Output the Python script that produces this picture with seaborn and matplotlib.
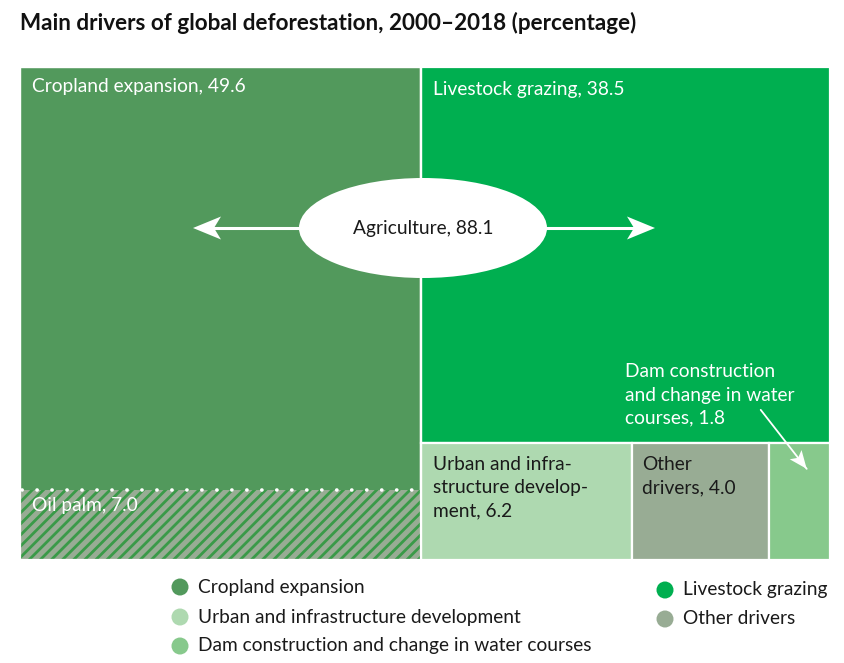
import matplotlib
matplotlib.use("Agg")
import numpy as np
import matplotlib.pyplot as plt
import seaborn as sns
from matplotlib.patches import Rectangle, Ellipse, Polygon
from matplotlib.transforms import IdentityTransform

# ---- data ----
drivers = ["Cropland expansion", "Livestock grazing", "Urban and infrastructure development",
           "Other drivers", "Dam construction and change in water courses"]
values = [49.6, 38.5, 6.2, 4.0, 1.8]
oil_palm = 7.0
agriculture = 88.1
box_labels = ["Cropland expansion, 49.6", "Livestock grazing, 38.5",
              "Urban and infra-\nstructure develop-\nment, 6.2",
              "Other\ndrivers, 4.0",
              "Dam construction\nand change in water\ncourses, 1.8"]
colors = ["#52995C", "#00AF50", "#AED9B0", "#98AC94", "#87C98C"]

sns.set_theme(style="white")
plt.rcParams["font.family"] = ["Lato", "DejaVu Sans"]
plt.rcParams["hatch.linewidth"] = 2.0
plt.rcParams["hatch.color"] = "#3A9A48"

W, H = 845, 663
fig = plt.figure(figsize=(W / 100, H / 100), dpi=100)
ax = fig.add_axes([20 / W, 103 / H, 810 / W, 493 / H])
total = sum(values)
ax.set_xlim(0, total)
ax.set_ylim(0, 1)
ax.axis("off")

# ---- treemap layout ----
crop, live, urban, other, dam = values
rest = total - crop
small = urban + other + dam
h_small = small / rest
rects = {}
rects[0] = (0, 0, crop, 1)
rects[1] = (crop, h_small, rest, 1 - h_small)
x = crop
for i, v in zip([2, 3, 4], [urban, other, dam]):
    w = v / small * rest
    rects[i] = (x, 0, w, h_small)
    x += w

for i, (x0, y0, w, h) in rects.items():
    ax.add_patch(Rectangle((x0, y0), w, h, facecolor=colors[i],
                           edgecolor="white", linewidth=1.6))

# oil palm hatched part of cropland
h_oil = oil_palm / crop
ax.add_patch(Rectangle((0, 0), crop, h_oil, facecolor="#98AC94", hatch="///",
                       edgecolor="#3A9A48", linewidth=0))
ax.add_patch(Rectangle((0, 0), crop, 1, fill=False, edgecolor="white", linewidth=1.6))
ax.plot([0.25, crop - 0.25], [h_oil, h_oil], color="white", lw=2.6,
        linestyle=(0, (0.05, 4.1)), dash_capstyle="round", solid_capstyle="round")

fs = 13.8
ls = 1.45
def label(i, text, dx, dy, color):
    x0, y0, w, h = rects[i]
    ax.annotate(text, xy=(x0, y0 + h), xytext=(dx, dy), textcoords="offset pixels",
                ha="left", va="top", fontsize=fs, color=color, linespacing=ls)

label(0, box_labels[0], 12, -11, "white")
label(1, box_labels[1], 12, -14, "white")
label(2, box_labels[2], 12, -13, "#1a1a1a")
label(3, box_labels[3], 10, -13, "#1a1a1a")
ax.annotate(f"Oil palm, {oil_palm:.1f}", xy=(0, h_oil), xytext=(12, -7),
            textcoords="offset pixels", ha="left", va="top", fontsize=fs, color="white")

def px(xd, yd):
    return ax.transData.transform((xd, yd))

def arrow_head(tip, direction, length, half_w, notch):
    d = np.asarray(direction, float)
    d = d / np.hypot(*d)
    n = np.array([-d[1], d[0]])
    tip = np.asarray(tip, float)
    back = tip - d * length
    pts = [tip, back + n * half_w, tip - d * (length - notch), back - n * half_w]
    ax.add_patch(Polygon(pts, closed=True, transform=IdentityTransform(),
                         facecolor="white", edgecolor="none", zorder=7, clip_on=False))

# dam label with arrow
x4, y4, w4, h4 = rects[4]
ax.annotate(box_labels[4], xy=(x4, h_small), xytext=(-144, 16),
            textcoords="offset pixels", ha="left", va="bottom", fontsize=fs,
            color="white", linespacing=ls)
tip = px(x4 + w4 * 0.62, h_small) + np.array([0, -26])
tail = tip + np.array([-46, 59])
ax.plot([tail[0], tip[0]], [tail[1], tip[1]], transform=IdentityTransform(),
        color="white", lw=1.3, zorder=6)
arrow_head(tip, tip - tail, 18, 7.5, 4)

# agriculture ellipse and double arrow
yc = 1 - (228 - 67) / 493
xl = (193 - 20) / 810 * total
xr = (655 - 20) / 810 * total
ax.plot([xl + 1.5, xr - 1.5], [yc, yc], color="white", lw=2.2, zorder=4)
pl, pr = px(xl, yc), px(xr, yc)
arrow_head(pl, (-1, 0), 28, 11.5, 7)
arrow_head(pr, (1, 0), 28, 11.5, 7)
ax.add_patch(Ellipse((crop + 0.2, yc), 248 / 810 * total, 100 / 493,
                     facecolor="white", edgecolor="none", zorder=5))
ax.text(crop + 0.2, yc, f"Agriculture, {agriculture}", ha="center", va="center",
        fontsize=fs, color="#1a1a1a", zorder=6)

# title
fig.text(20 / W, 1 - 23 / H, "Main drivers of global deforestation, 2000–2018 (percentage)",
         ha="left", va="center", fontsize=16.2, fontweight="bold", color="#111111")

# legend
leg = [(0, 180, 587), (2, 180, 617), (4, 180, 646), (1, 665, 590), (3, 665, 619)]
for i, cx, cy in leg:
    fig.add_artist(Ellipse((cx / W, 1 - cy / H), 17 / W, 17 / H,
                           transform=fig.transFigure, facecolor=colors[i], edgecolor="none"))
    fig.text((cx + 18) / W, 1 - cy / H, drivers[i], ha="left", va="center",
             fontsize=fs, color="#1a1a1a")

fig.savefig("out.png", dpi=100)
